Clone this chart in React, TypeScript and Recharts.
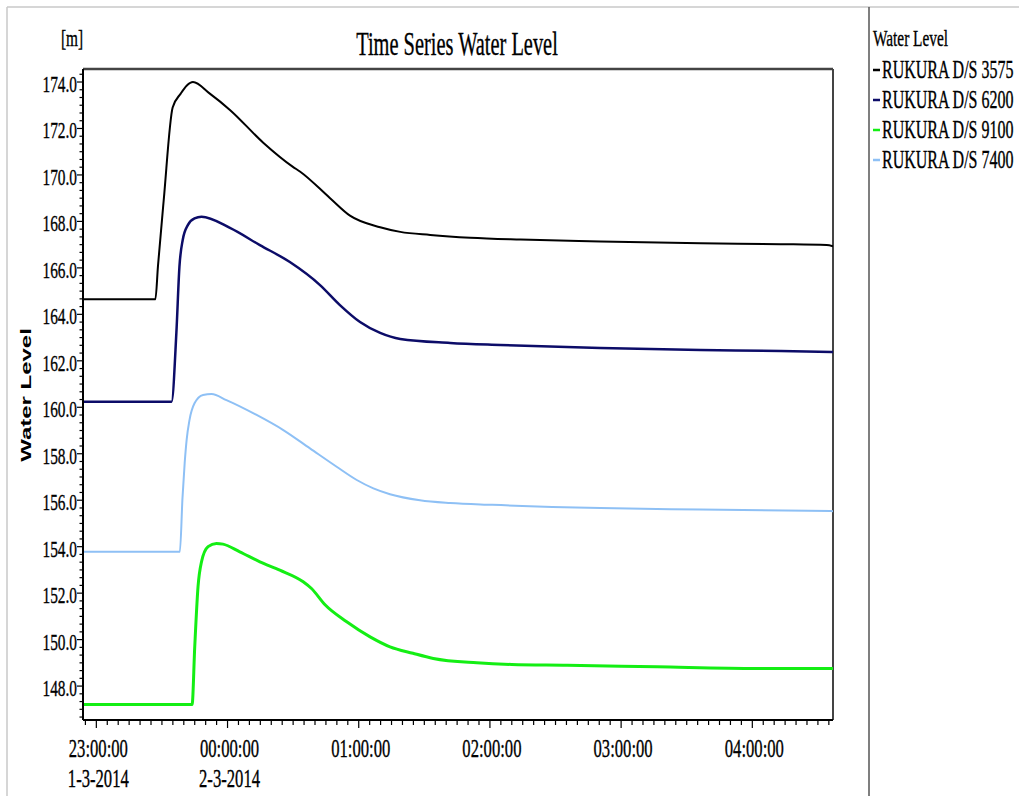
import { LineChart, Line, XAxis, YAxis, Legend, Customized } from 'recharts'

// minutes after 23:00 on 1-3-2014
const tBlack = [-6.1, 27.0, 28.2, 30.8, 34.9, 38.6, 41.4, 44.2, 51.9, 61.1, 76.2, 89.9, 93.1, 106.9, 116.0, 129.8, 139.0, 152.7, 171.0, 194.0, 230.6, 276.4, 313.0, 334.0, 336.9]
const vBlack = [164.65, 164.65, 166.1, 168.9, 172.9, 173.5, 173.85, 174.0, 173.5, 172.8, 171.4, 170.35, 170.15, 169.0, 168.25, 167.75, 167.55, 167.42, 167.3, 167.22, 167.14, 167.06, 167.02, 166.98, 166.93]

const tNavy = [-6.1, 34.4, 36.6, 38.0, 39.5, 41.9, 44.9, 48.1, 61.1, 74.8, 88.5, 102.3, 111.4, 120.6, 129.8, 139.0, 161.8, 184.7, 230.5, 276.3, 313.0, 336.9]
const vNavy = [160.24, 160.24, 163.2, 166.05, 167.2, 167.85, 168.13, 168.2, 167.72, 166.98, 166.25, 165.26, 164.4, 163.67, 163.2, 162.94, 162.77, 162.68, 162.55, 162.46, 162.42, 162.38]

const tGreen = [-6.1, 43.8, 45.0, 46.5, 48.1, 51.1, 54.9, 57.9, 65.6, 74.8, 83.9, 94.6, 98.4, 104.6, 114.5, 125.2, 134.3, 144.8, 154.1, 174.0, 190.0, 215.3, 256.5, 302.3, 336.9]
const vGreen = [147.21, 147.21, 149.69, 152.27, 153.35, 154.0, 154.14, 154.11, 153.78, 153.35, 152.99, 152.49, 152.2, 151.5, 150.77, 150.12, 149.69, 149.41, 149.19, 149.0, 148.93, 148.9, 148.83, 148.76, 148.76]

const tLight = [-6.1, 38.2, 39.4, 40.4, 41.3, 42.6, 44.9, 48.8, 52.7, 59.5, 73.3, 85.5, 97.7, 109.9, 119.1, 126.7, 134.3, 148.0, 161.8, 181.0, 230.5, 276.3, 336.9]
const vLight = [153.78, 153.78, 156.1, 157.6, 158.6, 159.45, 160.17, 160.53, 160.57, 160.31, 159.67, 159.02, 158.23, 157.44, 156.87, 156.51, 156.26, 156.0, 155.88, 155.8, 155.66, 155.6, 155.53]

const seriesNames = ['RUKURA D/S 3575', 'RUKURA D/S 6200', 'RUKURA D/S 9100', 'RUKURA D/S 7400']
const seriesColors = ['#000000', '#0c0c68', '#14ee14', '#8ec0f5']

const xMajor = [0, 60, 120, 180, 240, 300]
const xTimeLabels = ['23:00:00', '00:00:00', '01:00:00', '02:00:00', '03:00:00', '04:00:00']
const xDateLabels = ['1-3-2014', '2-3-2014', '', '', '', '']
const yMajor = [148, 150, 152, 154, 156, 158, 160, 162, 164, 166, 168, 170, 172, 174]

const X_DOMAIN = [-6.1, 336.9]
const Y_DOMAIN = [146.54, 174.56]

const zip = (t: number[], v: number[]) => t.map((x, i) => ({ t: x, v: v[i] }))
const series = [zip(tBlack, vBlack), zip(tNavy, vNavy), zip(tGreen, vGreen), zip(tLight, vLight)]

// minor ticks: 5 minutes on x, 1/3 m on y
const xTicks: number[] = []
for (let m = -5; m <= 335; m += 5) xTicks.push(m)
const yTicks: number[] = []
for (let k = Math.ceil(Y_DOMAIN[0] * 3); k <= Math.floor(Y_DOMAIN[1] * 3); k++) yTicks.push(k / 3)

const SX = 0.64
const serif = '"Liberation Serif", "Times New Roman", serif'
// the reference text is a bit heavy, thicken it slightly
const heavy = { stroke: '#000', strokeWidth: 0.35 }

function XTick(props: any) {
  const { x, y, payload } = props
  const i = xMajor.indexOf(payload.value)
  const major = i >= 0
  return (
    <g>
      <line x1={x} x2={x} y1={y} y2={y + (major ? 8 : 5)} stroke="#000" strokeWidth={1.2} />
      {major && (
        <text transform={`translate(${x + 2},${y + 37}) scale(${SX},1)`} textAnchor="middle" fontSize={26} fontFamily={serif} fill="#000" {...heavy}>
          {xTimeLabels[i]}
        </text>
      )}
      {major && xDateLabels[i] && (
        <text transform={`translate(${x + 2},${y + 67}) scale(${SX},1)`} textAnchor="middle" fontSize={26} fontFamily={serif} fill="#000" {...heavy}>
          {xDateLabels[i]}
        </text>
      )}
    </g>
  )
}

function YTick(props: any) {
  const { x, y, payload } = props
  const v = payload.value
  const major = yMajor.some((m) => Math.abs(m - v) < 1e-6)
  return (
    <g>
      <line x1={x} x2={x - (major ? 6 : 3.5)} y1={y} y2={y} stroke="#000" strokeWidth={1.2} />
      {major && (
        <text transform={`translate(${x - 6},${y + 10}) scale(${SX},1)`} textAnchor="end" fontSize={24} fontFamily={serif} fill="#000" {...heavy}>
          {v.toFixed(1)}
        </text>
      )}
    </g>
  )
}

function LegendBox(props: any) {
  const payload = props.payload || []
  return (
    <svg width={150} height={200} style={{ display: 'block' }}>
      <text transform={`translate(4,46) scale(${SX},1)`} fontSize={24} fontFamily={serif} fill="#000" {...heavy}>
        Water Level
      </text>
      {seriesNames.map((name, i) => {
        const item = payload.find((p: any) => p.value === name)
        const color = item ? item.color : seriesColors[i]
        const y = 78 + i * 30
        return (
          <g key={name}>
            <line x1={4} x2={11} y1={y - 8} y2={y - 8} stroke={color} strokeWidth={2.5} />
            <text transform={`translate(13,${y}) scale(${SX},1)`} fontSize={25} fontFamily={serif} fill="#000" {...heavy}>
              {name}
            </text>
          </g>
        )
      })}
    </svg>
  )
}

function Decor() {
  return (
    <g>
      <line x1={7} x2={1019} y1={7} y2={7} stroke="#c8c8c8" strokeWidth={1.5} />
      <line x1={7} x2={7} y1={7} y2={796} stroke="#c8c8c8" strokeWidth={1.5} />
      <line x1={869} x2={869} y1={7} y2={796} stroke="#555" strokeWidth={1.5} />
      <line x1={83} x2={833} y1={69} y2={69} stroke="#444" strokeWidth={2.5} />
      <line x1={833} x2={833} y1={69} y2={720} stroke="#444" strokeWidth={2} />
      <text transform={`translate(457,55) scale(0.6,1)`} textAnchor="middle" fontSize={34} fontFamily={serif} fill="#000" {...heavy}>
        Time Series Water Level
      </text>
      <text transform={`translate(61,46) scale(${SX},1)`} fontSize={24} fontFamily={serif} fill="#000" {...heavy}>
        [m]
      </text>
      <text
        transform={`translate(31,395) scale(${SX},1) rotate(-90)`}
        textAnchor="middle"
        fontSize={24}
        fontWeight="bold"
        fontFamily='"Liberation Sans", Arial, sans-serif'
        fill="#000"
      >
        Water Level
      </text>
    </g>
  )
}

export default function App() {
  return (
    <div style={{ position: 'absolute', left: 0, top: 0, width: 1019, height: 796, background: '#fff' }}>
      <LineChart width={1019} height={796} margin={{ top: 69, right: 186, bottom: 16, left: 23 }}>
        <XAxis
          type="number"
          dataKey="t"
          domain={X_DOMAIN}
          allowDataOverflow
          ticks={xTicks}
          interval={0}
          height={60}
          tickLine={false}
          tickSize={0}
          tickMargin={0}
          axisLine={{ stroke: '#000', strokeWidth: 2 }}
          tick={(p: any) => <XTick {...p} />}
        />
        <YAxis
          type="number"
          dataKey="v"
          domain={Y_DOMAIN}
          allowDataOverflow
          ticks={yTicks}
          interval={0}
          width={60}
          tickLine={false}
          tickSize={0}
          tickMargin={0}
          axisLine={{ stroke: '#000', strokeWidth: 2 }}
          tick={(p: any) => <YTick {...p} />}
        />
        <Customized component={Decor} />
        {series.map((d, i) => (
          <Line
            key={seriesNames[i]}
            data={d}
            dataKey="v"
            name={seriesNames[i]}
            type="monotone"
            stroke={seriesColors[i]}
            strokeWidth={i === 2 ? 3 : i === 1 ? 2.5 : 2}
            dot={false}
            activeDot={false}
            isAnimationActive={false}
          />
        ))}
        <Legend
          layout="vertical"
          align="center"
          verticalAlign="middle"
          wrapperStyle={{ left: 869, top: 0, width: 150, height: 200 }}
          content={(p: any) => <LegendBox {...p} />}
        />
      </LineChart>
    </div>
  )
}
